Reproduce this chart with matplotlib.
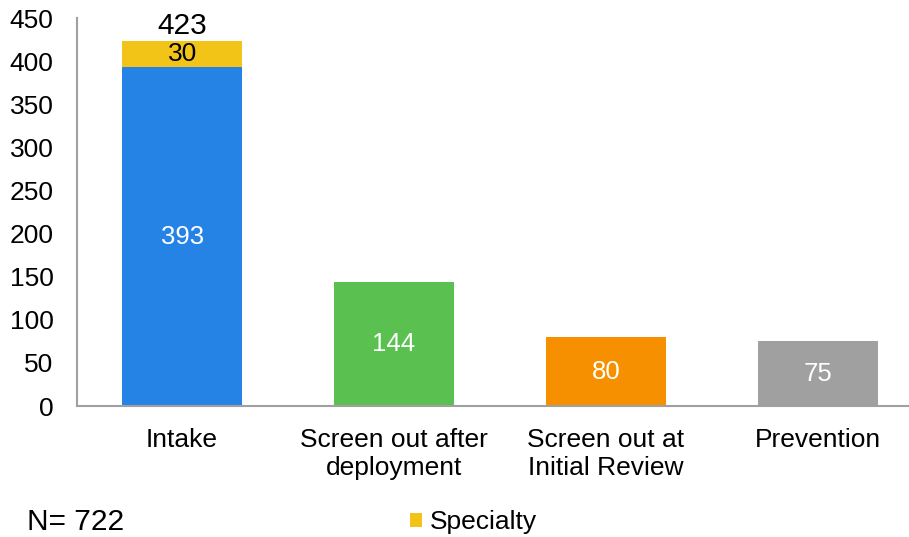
import matplotlib.pyplot as plt

plt.rcParams['font.family'] = ['Liberation Sans', 'DejaVu Sans']

# data
categories = ["Intake", "Screen out after\ndeployment", "Screen out at\nInitial Review", "Prevention"]
base_values = [393, 144, 80, 75]
specialty = [30, 0, 0, 0]
totals = [423, None, None, None]
colors = ["#2683E6", "#5AC150", "#F79000", "#A0A0A0"]
spec_color = "#F2C418"
n_total = 722

fig = plt.figure(figsize=(9.09, 5.37), dpi=100)
ax = fig.add_axes([77 / 909, 1 - 406 / 537, (909 - 77) / 909, (406 - 18) / 537])

x = list(range(len(categories)))
w = 0.567
bars = ax.bar(x, base_values, width=w, color=colors)
spec = ax.bar(x, specialty, width=w, bottom=base_values, color=spec_color, label="Specialty")

# value labels
for xi, v in zip(x, base_values):
    ax.text(xi, v / 2, str(v), ha="center", va="center", color="white", fontsize=18.5)
for xi, b, s in zip(x, base_values, specialty):
    if s:
        ax.text(xi, b + s / 2, str(s), ha="center", va="center", color="black", fontsize=19)
for xi, b, s, t in zip(x, base_values, specialty, totals):
    if t:
        ax.text(xi, b + s + 2, str(t), ha="center", va="bottom", color="black", fontsize=21.5)

ax.set_ylim(0, 450)
ax.set_xlim(-0.496, 3.43)
ax.set_yticks(range(0, 451, 50))
ax.set_xticks(x)
ax.set_xticklabels(categories, fontsize=19, linespacing=1.22)
ax.tick_params(axis="y", labelsize=19, length=0, pad=17)
ax.tick_params(axis="x", length=0, pad=16)

for side in ["top", "right"]:
    ax.spines[side].set_visible(False)
for side in ["left", "bottom"]:
    ax.spines[side].set_color("#A0A0A0")
    ax.spines[side].set_linewidth(1.5)

fig.text(27 / 909, 1 - 522 / 537, f"N= {n_total}", fontsize=21.5, va="center", ha="left")
fig.legend(handles=[spec], loc="center left", bbox_to_anchor=(410 / 909, 1 - 522 / 537),
           frameon=False, fontsize=19, handlelength=0.45, handleheight=0.45, handletextpad=0.3,
           borderpad=0, borderaxespad=0)

fig.savefig("out.png", dpi=100)
